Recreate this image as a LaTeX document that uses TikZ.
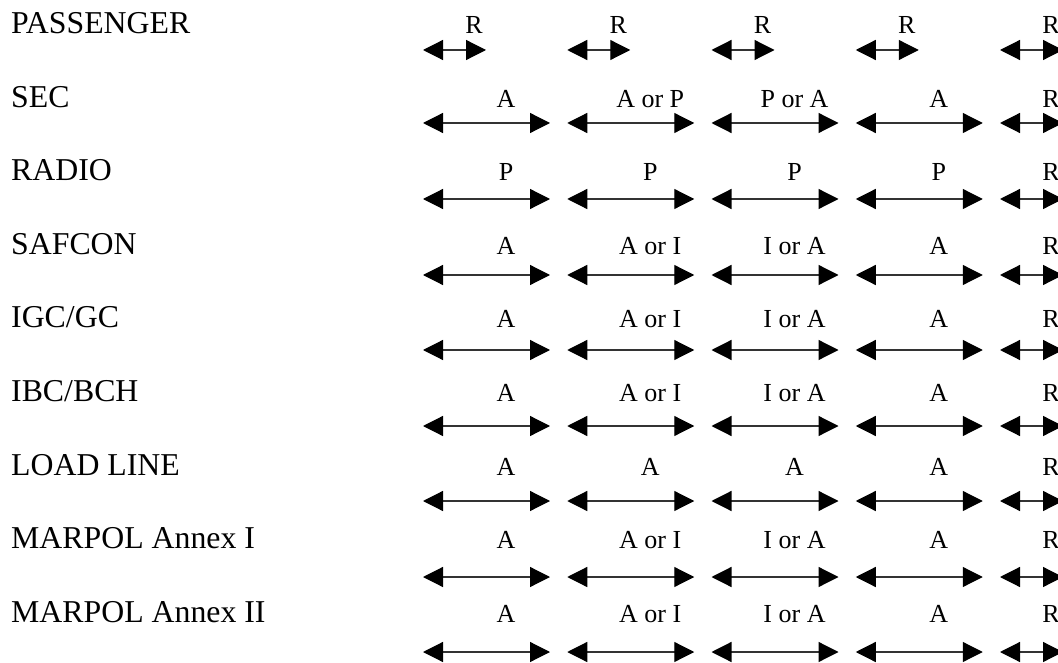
\documentclass[tikz,border=0pt]{standalone}
\usepackage{fontspec}
\setmainfont{Liberation Serif}
\usetikzlibrary{arrows.meta}
\tikzset{
  rowlabel/.style={anchor=base west, inner sep=0pt, font=\fontsize{31.8}{34}\selectfont},
  arrlabel/.style={anchor=base, inner sep=0pt, font=\fontsize{26}{28}\selectfont},
  bighead/.tip={Triangle[length=20pt,width=20pt,color=black]},
  dblarrow/.style={line width=1.2pt, draw=black!80, bighead-bighead},
}
\begin{document}
\begin{tikzpicture}[x=1pt,y=-1pt]
\useasboundingbox (0,0) rectangle (1058,663);
\clip (0,0) rectangle (1058,663);
% row titles
\foreach \lab [count=\i from 0] in {PASSENGER,SEC,RADIO,SAFCON,IGC/GC,IBC/BCH,LOAD LINE,MARPOL Annex I,MARPOL Annex II}
  \node[rowlabel] (L\i) at (11,{33.5+73.6*\i}) {\lab};
% passenger row: all short R arrows
\foreach \c in {0,...,4} {
  \coordinate (a0-\c-w) at ({423+144.25*\c},50);
  \coordinate (a0-\c-e) at ({486+144.25*\c},50);
  \draw[dblarrow] (a0-\c-w) -- (a0-\c-e);
  \node[arrlabel] (t0-\c) at ({474+144.25*\c},33.5) {R};
}
% other rows
\foreach \r/\ay/\la/\lb/\lc/\ld in {1/123/A/A or P/P or A/A,2/199/P/P/P/P,3/275/A/A or I/I or A/A,4/350/A/A or I/I or A/A,5/426/A/A or I/I or A/A,6/501/A/A/A/A,7/577/A/A or I/I or A/A,8/652/A/A or I/I or A/A} {
  \pgfmathsetmacro\by{33.5+73.6*\r}
  \foreach \c/\txt in {0/\la,1/\lb,2/\lc,3/\ld} {
    \coordinate (a\r-\c-w) at ({423+144.25*\c},\ay);
    \coordinate (a\r-\c-e) at ({550+144.25*\c},\ay);
    \draw[dblarrow] (a\r-\c-w) -- (a\r-\c-e);
    \node[arrlabel] (t\r-\c) at ({506+144.25*\c},\by) {\txt};
  }
  \coordinate (a\r-4-w) at (1000,\ay);
  \coordinate (a\r-4-e) at (1063,\ay);
  \draw[dblarrow] (a\r-4-w) -- (a\r-4-e);
  \node[arrlabel] (t\r-4) at (1051,\by) {R};
}
\end{tikzpicture}
\end{document}
